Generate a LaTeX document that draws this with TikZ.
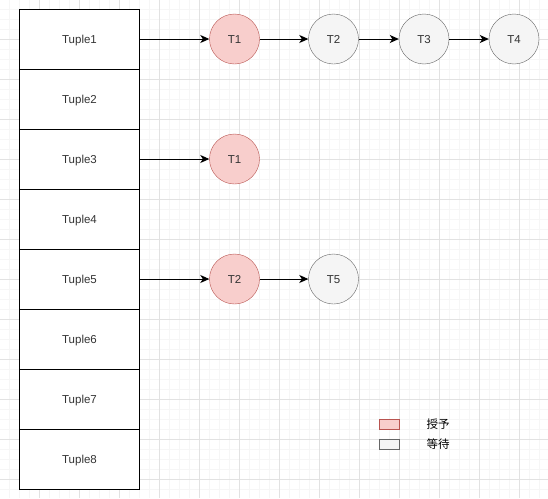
\documentclass[tikz,border=0pt]{standalone}
\usepackage{fontspec}
\setmainfont{Liberation Sans}
\newfontfamily\cjk{Noto Sans CJK SC}
\usetikzlibrary{arrows.meta}
\definecolor{redfill}{HTML}{F8CECC}
\definecolor{redline}{HTML}{B85450}
\definecolor{greyfill}{HTML}{F5F5F5}
\definecolor{greyline}{HTML}{666666}
\definecolor{gridminor}{HTML}{F6F6F6}
\definecolor{gridmajor}{HTML}{E2E2E2}
\definecolor{txt}{HTML}{333333}
\begin{document}
\begin{tikzpicture}[x=1pt,y=-1pt,
  labelfont/.style={font=\fontsize{11.5}{13}\selectfont,text=txt,text height=8.5pt,text depth=0pt},
  tuplebox/.style={draw=black,line width=1pt,fill=white,minimum width=120pt,minimum height=60pt,inner sep=0pt,labelfont},
  granted/.style={circle,draw=redline,fill=redfill,minimum size=50pt,inner sep=0pt,labelfont},
  waiting/.style={circle,draw=greyline,fill=greyfill,minimum size=50pt,inner sep=0pt,labelfont},
  conn/.style={line width=1pt,-{Stealth[length=9pt,width=8pt,inset=2.5pt]}},
  legendtext/.style={font=\cjk\fontsize{11.5}{13}\selectfont,text=black,inner sep=0pt}]
\useasboundingbox (0,0) rectangle (548,498);
\fill[white] (0,0) rectangle (548,498);
\foreach \v in {-1,9,...,549} {
  \draw[gridminor,line width=0.8pt] (\v,0) -- (\v,498);
  \draw[gridminor,line width=0.8pt] (0,\v) -- (548,\v);
}
\foreach \v in {-1,39,...,549} {
  \draw[gridmajor,line width=0.8pt] (\v,0) -- (\v,498);
  \draw[gridmajor,line width=0.8pt] (0,\v) -- (548,\v);
}
% tuple rows
\foreach \i in {1,...,8} {
  \node[tuplebox] (tu\i) at (79.5,{39+60*(\i-1)}) {Tuple\i};
}
% row 1
\node[granted] (a1) at (234.5,39) {T1};
\node[waiting] (a2) at (333.5,39) {T2};
\node[waiting] (a3) at (424,39) {T3};
\node[waiting] (a4) at (514,39) {T4};
\draw[conn] (tu1.east) -- (a1);
\draw[conn] (a1) -- (a2);
\draw[conn] (a2) -- (a3);
\draw[conn] (a3) -- (a4);
% row 3
\node[granted] (b1) at (234.5,159) {T1};
\draw[conn] (tu3.east) -- (b1);
% row 5
\node[granted] (c1) at (234.5,279) {T2};
\node[waiting] (c2) at (333.5,279) {T5};
\draw[conn] (tu5.east) -- (c1);
\draw[conn] (c1) -- (c2);
% legend
\node[draw=redline,fill=redfill,minimum width=20pt,minimum height=10pt,inner sep=0pt] (lg1) at (389,424) {};
\node[draw=greyline,fill=greyfill,minimum width=20pt,minimum height=10pt,inner sep=0pt] (lg2) at (389,444) {};
\node[legendtext] (lt1) at (438,424) {授予};
\node[legendtext] (lt2) at (438,444) {等待};
\end{tikzpicture}
\end{document}
